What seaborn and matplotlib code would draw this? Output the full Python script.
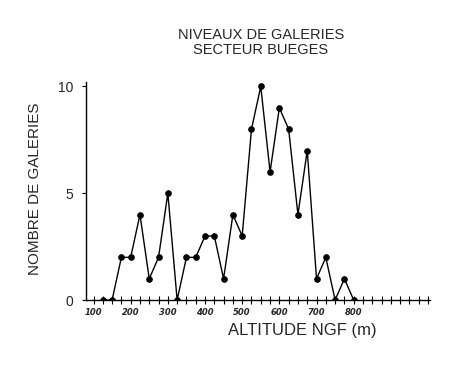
import matplotlib
matplotlib.use("Agg")
import matplotlib.pyplot as plt
from matplotlib.ticker import MultipleLocator, FixedLocator
import seaborn as sns
import pandas as pd

altitude = [125, 150, 175, 200, 225, 250, 275, 300, 325, 350, 375, 400, 425, 450,
            475, 500, 525, 550, 575, 600, 625, 650, 675, 700, 725, 750, 775, 800]
galeries = [0, 0, 2, 2, 4, 1, 2, 5, 0, 2, 2, 3, 3, 1,
            4, 3, 8, 10, 6, 9, 8, 4, 7, 1, 2, 0, 1, 0]
x_ticks = [100, 200, 300, 400, 500, 600, 700, 800]
y_ticks = [0, 5, 10]

df = pd.DataFrame({"altitude": altitude, "galeries": galeries})

sns.set_theme(style="ticks")
plt.rcParams["font.family"] = ["Liberation Sans", "DejaVu Sans"]

fig = plt.figure(figsize=(4.53, 3.77), dpi=100)
ax = fig.add_axes([0.190, 0.204, 0.759, 0.578])

sns.lineplot(data=df, x="altitude", y="galeries", ax=ax, color="black",
             linewidth=1.0, marker="o", markersize=4, markeredgecolor="black",
             markerfacecolor="black")

ax.set_xlim(80, 1005)
ax.set_ylim(0, 10.2)
ax.spines["top"].set_visible(False)
ax.spines["right"].set_visible(False)
for s in ("left", "bottom"):
    ax.spines[s].set_linewidth(1.0)
    ax.spines[s].set_color("black")

ax.xaxis.set_major_locator(FixedLocator(x_ticks))
ax.xaxis.set_minor_locator(MultipleLocator(25))
ax.set_xticklabels([str(t) for t in x_ticks], fontsize=6, fontstyle="italic",
                   fontweight="bold", family="DejaVu Sans")
ax.tick_params(axis="x", which="both", direction="inout", length=6, width=0.8,
               color="black", pad=3)
ax.set_yticks(y_ticks)
ax.set_yticklabels([str(t) for t in y_ticks], fontsize=10)
ax.tick_params(axis="y", which="major", direction="out", length=3, width=0.8,
               color="black", pad=6)

ax.set_xlabel("ALTITUDE NGF (m)", fontsize=12, labelpad=4, x=0.63)
ax.set_ylabel("NOMBRE DE GALERIES", fontsize=11, labelpad=12, y=0.51)

fig.text(0.576, 0.908, "NIVEAUX DE GALERIES", ha="center", va="center", fontsize=10.5)
fig.text(0.576, 0.867, "SECTEUR BUEGES", ha="center", va="center", fontsize=10.5)

fig.savefig("out.png", dpi=100, facecolor="white")
